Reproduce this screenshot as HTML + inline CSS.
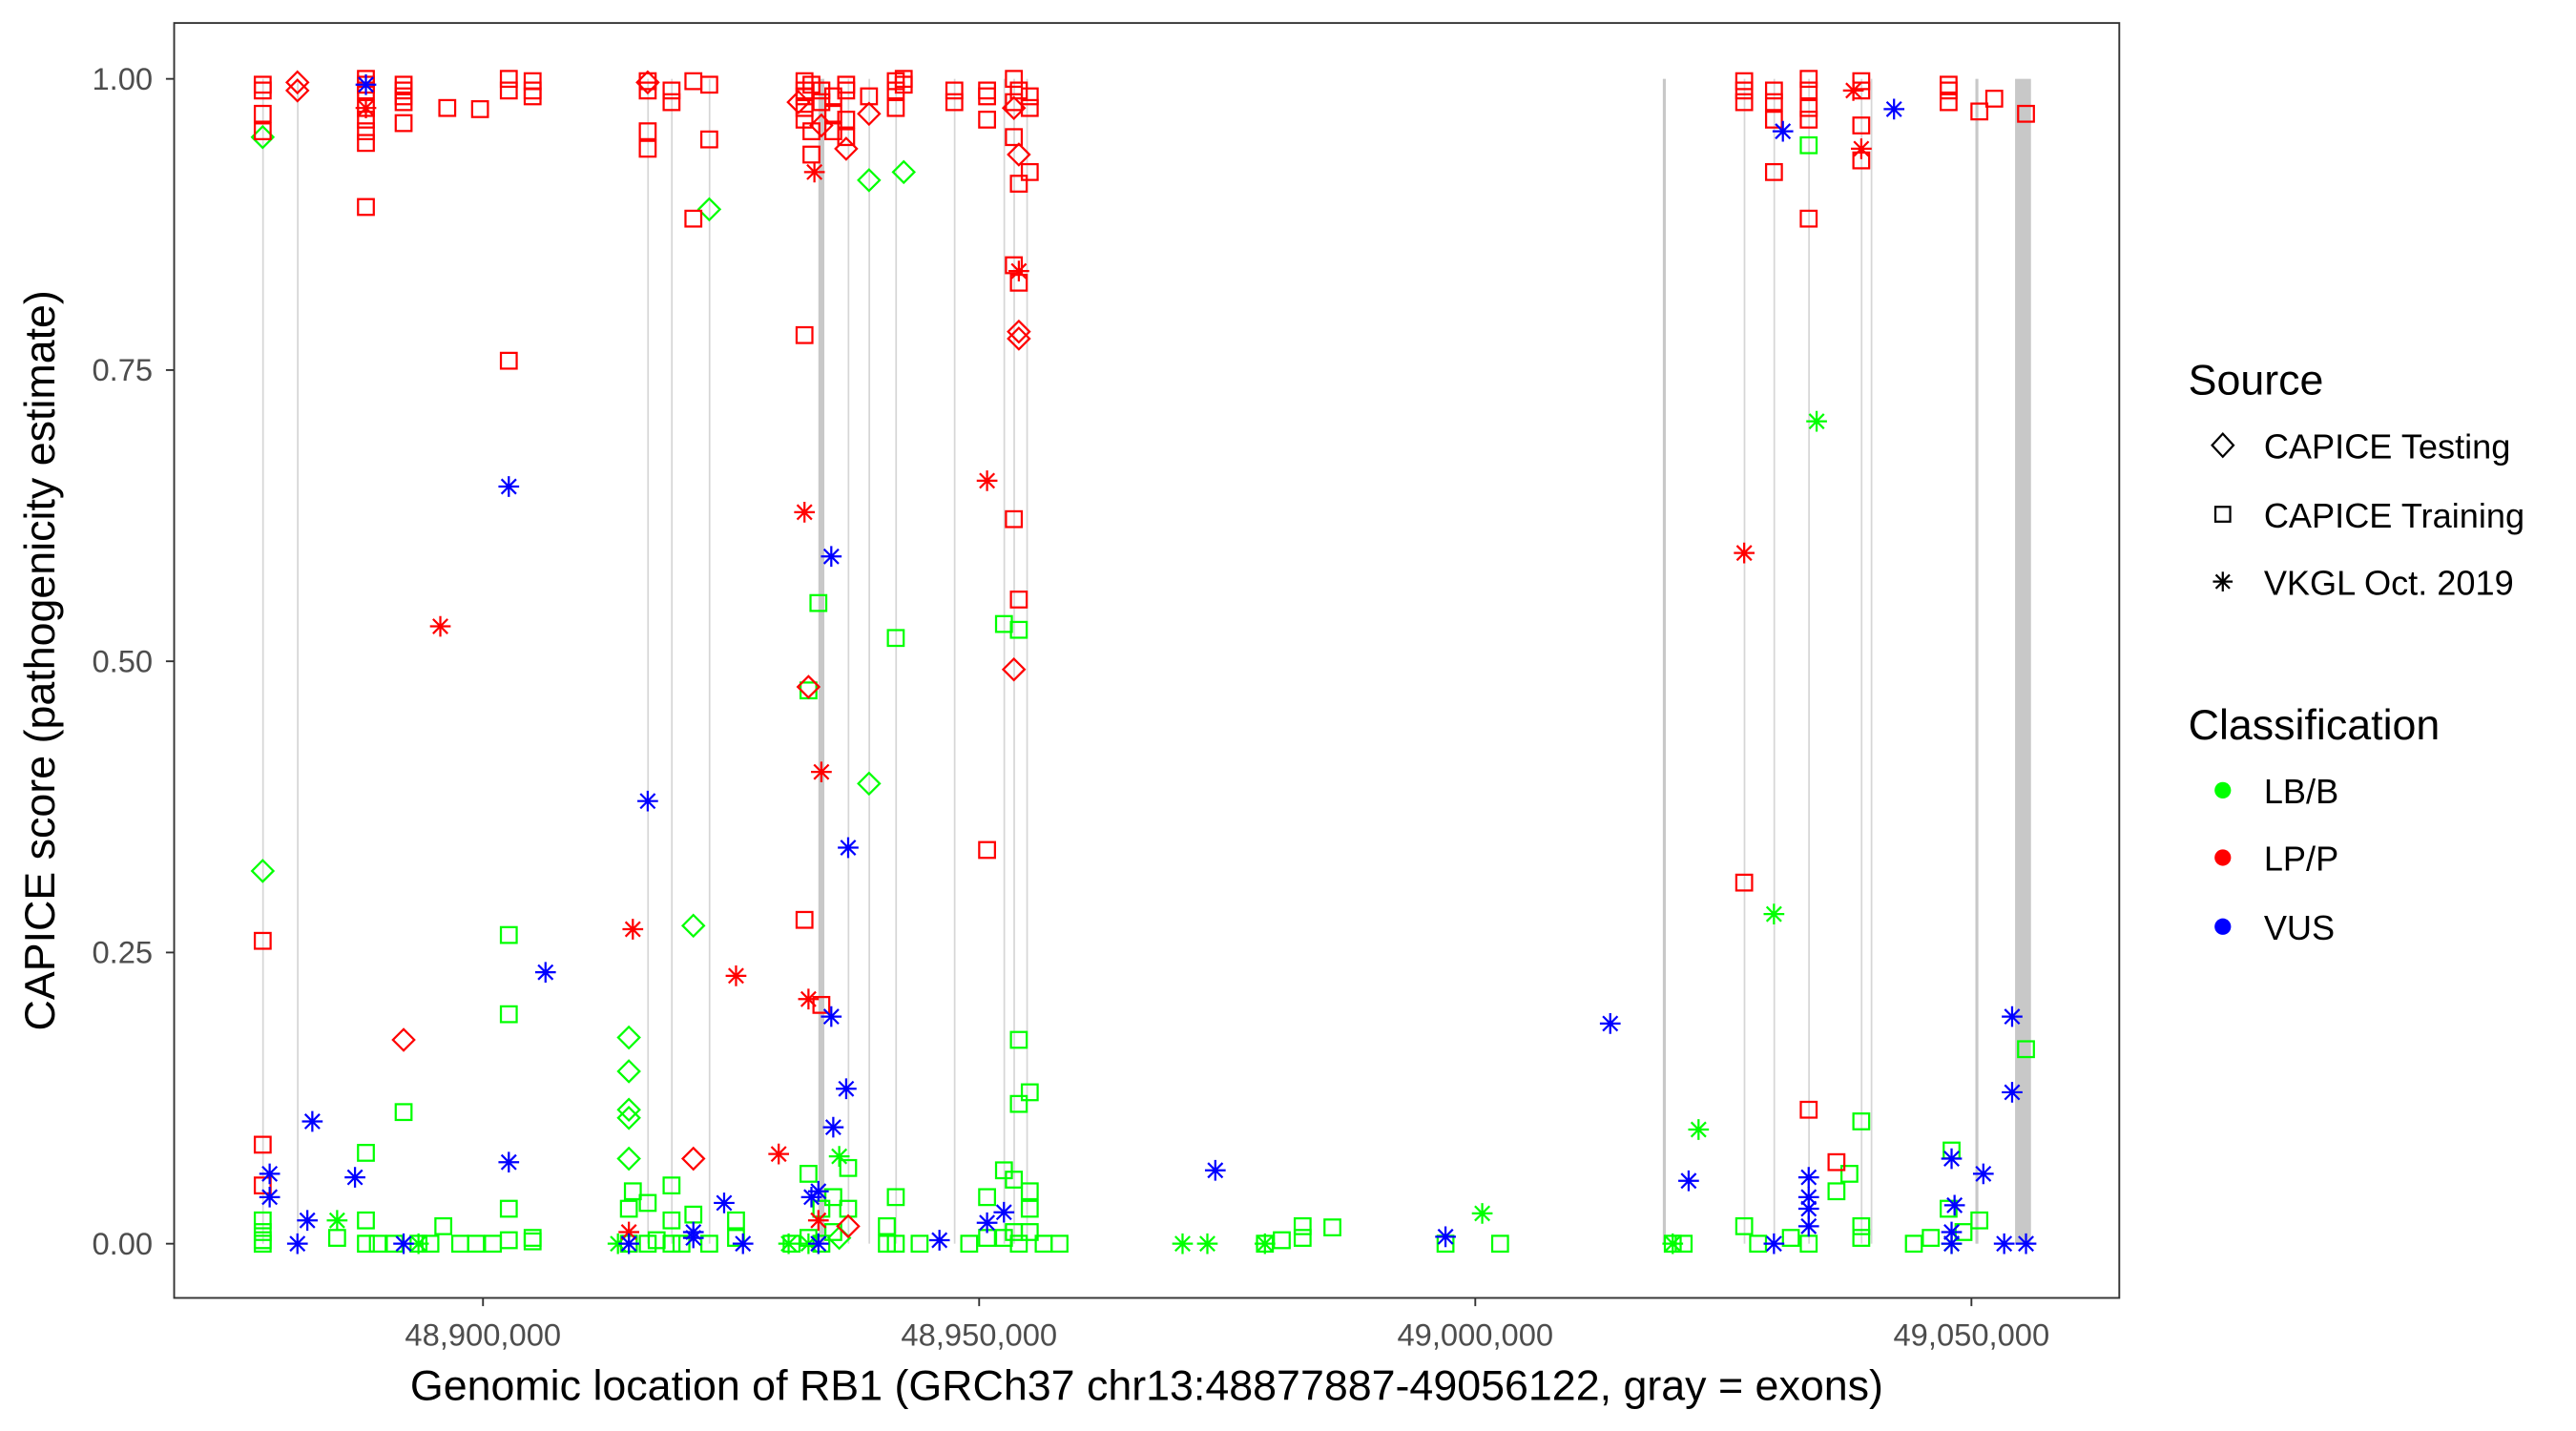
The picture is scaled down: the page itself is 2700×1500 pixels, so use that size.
<!DOCTYPE html>
<html><head><meta charset="utf-8"><style>
html,body{margin:0;padding:0;background:#fff;}
svg{display:block;font-family:"Liberation Sans",Arial,sans-serif;}
</style></head><body>
<svg id="chart" width="2700" height="1500" viewBox="0 0 1568 871" preserveAspectRatio="none" xmlns="http://www.w3.org/2000/svg">
<rect x="0" y="0" width="1568" height="871" fill="#fff"/>
<g id="exons"></g>
<g id="points"></g>
<rect x="106" y="14" width="1184" height="776" fill="none" stroke="#333" stroke-width="1.1"/>
<g id="yaxis"></g>
<g id="xaxis"></g>
<text x="698" y="852" font-size="26" text-anchor="middle" fill="#000">Genomic location of RB1 (GRCh37 chr13:48877887-49056122, gray = exons)</text>
<text transform="translate(33,402) rotate(-90)" font-size="26" text-anchor="middle" fill="#000">CAPICE score (pathogenicity estimate)</text>
<g>
<text x="1332" y="240" font-size="26">Source</text>
<path d="M1353,264 L1359.5,271 L1353,278 L1346.5,271 Z" fill="none" stroke="#000" stroke-width="1.3"/>
<text x="1378" y="279" font-size="21">CAPICE Testing</text>
<rect x="1348.5" y="308.5" width="9" height="9" fill="none" stroke="#000" stroke-width="1.3"/>
<text x="1378" y="321" font-size="21">CAPICE Training</text>
<g stroke="#000" stroke-width="1.3"><line x1="1353" y1="348" x2="1353" y2="360"/><line x1="1347" y1="354" x2="1359" y2="354"/><line x1="1348.8" y1="349.8" x2="1357.2" y2="358.2"/><line x1="1348.8" y1="358.2" x2="1357.2" y2="349.8"/></g>
<text x="1378" y="362" font-size="21">VKGL Oct. 2019</text>
</g>
<g>
<text x="1332" y="450" font-size="26">Classification</text>
<circle cx="1353" cy="481" r="5" fill="#00ff00"/>
<text x="1378" y="489" font-size="21">LB/B</text>
<circle cx="1353" cy="522" r="5" fill="#ff0000"/>
<text x="1378" y="530" font-size="21">LP/P</text>
<circle cx="1353" cy="564" r="5" fill="#0000ff"/>
<text x="1378" y="572" font-size="21">VUS</text>
</g>
</svg>
<script>
// positions in kb (GRCh37 chr13), scores 0..1
const yTicks = [0, 0.25, 0.5, 0.75, 1.0];
const yTickLabels = ["0.00", "0.25", "0.50", "0.75", "1.00"];
const xTicks = [48900, 48950, 49000, 49050];
const xTickLabels = ["48,900,000", "48,950,000", "49,000,000", "49,050,000"];
const exons = [[48877.75,48877.85],[48881.25,48881.35],[48916.55,48916.65],[48918.95,48919.05],[48922.75,48922.85],[48933.8,48934.4],[48936.75,48936.85],[48938.85,48938.95],[48941.55,48941.65],[48947.45,48947.55],[48952.45,48952.55],[48953.45,48953.55],[48954.75,48954.85],[49018.9,49019.2],[49027.05,49027.15],[49030.05,49030.15],[49033.55,49033.65],[49038.85,49038.95],[49039.85,49039.95],[49050.4,49050.7],[49054.4,49056.0]];
const testingLB = [[48877.8,0.95],[48877.8,0.32],[48914.7,0.177],[48914.7,0.148],[48914.7,0.115],[48914.7,0.108],[48914.7,0.073],[48921.2,0.273],[48922.8,0.888],[48938.9,0.913],[48942.4,0.92],[48938.9,0.395],[48935.9,0.005]];
const testingLP = [[48881.3,0.997],[48881.3,0.99],[48892.0,0.175],[48916.6,0.997],[48921.2,0.073],[48931.8,0.98],[48932.8,0.478],[48936.6,0.94],[48938.9,0.97],[48936.8,0.015],[48953.5,0.493],[48954.0,0.783],[48954.0,0.777],[48954.0,0.935],[48953.5,0.975],[48934.1,0.96]];
const trainingLB = [[48877.8,0.02],[48877.8,0.01],[48877.8,0.0],[48877.8,0.003],[48885.3,0.005],[48888.2,0.078],[48888.2,0.02],[48888.2,0],[48892.0,0.113],[48889.4,0],[48891.1,0],[48893.5,0],[48894.7,0],[48896.0,0.015],[48897.7,0],[48899.3,0],[48901.0,0],[48902.6,0.265],[48902.6,0.197],[48902.6,0.03],[48902.6,0.003],[48905.0,0.005],[48905.0,0.002],[48914.7,0.03],[48914.7,0],[48915.1,0.045],[48916.6,0.035],[48916.6,0],[48917.5,0.003],[48919.0,0.05],[48919.0,0.02],[48919.0,0],[48920.0,0],[48921.2,0.025],[48922.8,0],[48925.5,0.02],[48925.5,0.005],[48931.1,0],[48932.8,0.475],[48932.8,0.06],[48932.8,0.005],[48933.8,0.55],[48934.1,0.03],[48934.1,0],[48935.3,0.04],[48935.3,0.01],[48936.8,0.065],[48936.8,0.03],[48940.7,0.015],[48940.7,0],[48941.6,0.52],[48941.6,0.04],[48941.6,0],[48944.0,0],[48949.0,0],[48950.8,0.04],[48950.8,0.005],[48952.5,0.532],[48952.5,0.063],[48952.5,0.005],[48953.5,0.055],[48953.5,0.01],[48954.0,0.527],[48954.0,0.175],[48954.0,0.12],[48954.0,0],[48955.1,0.13],[48955.1,0.045],[48955.1,0.03],[48955.1,0.01],[48956.5,0],[48958.1,0],[48978.8,0],[48980.5,0.003],[48982.6,0.015],[48982.6,0.005],[48985.6,0.014],[48997.0,0],[49002.5,0],[49019.9,0],[49021.0,0],[49027.1,0.015],[49028.5,0],[49031.8,0.005],[49033.6,0.943],[49033.6,0],[49036.4,0.045],[49037.7,0.06],[49038.9,0.105],[49038.9,0.015],[49038.9,0.005],[49044.2,0],[49045.9,0.005],[49047.7,0.03],[49048.0,0.08],[49049.2,0.01],[49050.8,0.02],[49055.5,0.167]];
const trainingLP = [[48877.8,0.995],[48877.8,0.99],[48877.8,0.97],[48877.8,0.955],[48877.8,0.26],[48877.8,0.085],[48877.8,0.05],[48888.2,1.0],[48888.2,0.995],[48888.2,0.99],[48888.2,0.975],[48888.2,0.965],[48888.2,0.955],[48888.2,0.945],[48888.2,0.89],[48892.0,0.995],[48892.0,0.99],[48892.0,0.985],[48892.0,0.98],[48892.0,0.962],[48896.4,0.975],[48899.7,0.974],[48902.6,1.0],[48902.6,0.99],[48902.6,0.758],[48905.0,0.998],[48905.0,0.99],[48905.0,0.985],[48916.6,0.998],[48916.6,0.99],[48916.6,0.955],[48916.6,0.94],[48919.0,0.99],[48919.0,0.98],[48921.2,0.998],[48921.2,0.88],[48922.8,0.995],[48922.8,0.948],[48932.4,0.78],[48932.4,0.278],[48932.4,0.998],[48932.4,0.99],[48932.4,0.985],[48932.4,0.975],[48932.4,0.965],[48933.1,0.995],[48933.1,0.955],[48933.1,0.935],[48934.1,0.205],[48934.1,0.99],[48934.1,0.98],[48935.3,0.985],[48935.3,0.97],[48935.3,0.955],[48936.6,0.995],[48936.6,0.99],[48936.6,0.965],[48936.6,0.95],[48938.9,0.985],[48941.6,0.998],[48941.6,0.99],[48941.6,0.975],[48942.4,1.0],[48942.4,0.995],[48947.5,0.99],[48947.5,0.98],[48950.8,0.99],[48950.8,0.985],[48950.8,0.965],[48950.8,0.338],[48953.5,1.0],[48953.5,0.98],[48953.5,0.95],[48953.5,0.84],[48953.5,0.622],[48954.0,0.99],[48954.0,0.91],[48954.0,0.825],[48954.0,0.553],[48955.1,0.985],[48955.1,0.975],[48955.1,0.92],[49027.1,0.998],[49027.1,0.99],[49027.1,0.98],[49027.1,0.31],[49030.1,0.99],[49030.1,0.98],[49030.1,0.965],[49030.1,0.92],[49033.6,1.0],[49033.6,0.99],[49033.6,0.975],[49033.6,0.965],[49033.6,0.88],[49033.6,0.115],[49036.4,0.07],[49038.9,0.998],[49038.9,0.99],[49038.9,0.96],[49038.9,0.93],[49047.7,0.995],[49047.7,0.99],[49047.7,0.98],[49050.8,0.972],[49052.3,0.983],[49055.5,0.97]];
const vkglLB = [[48885.3,0.02],[48935.9,0.075],[49000.7,0.026],[48970.5,0],[48973.0,0],[48978.8,0],[49019.9,0],[49022.5,0.098],[49030.1,0.283],[49034.4,0.706],[48932.8,0],[48913.6,0],[48893.5,0],[48930.8,0],[49048.0,0]];
const vkglLP = [[48888.2,0.975],[48895.7,0.53],[48915.1,0.27],[48914.7,0.01],[48925.5,0.23],[48929.8,0.077],[48932.4,0.628],[48933.4,0.92],[48932.8,0.21],[48934.1,0.405],[48933.8,0.02],[48950.8,0.655],[48954.0,0.835],[49027.1,0.593],[49038.1,0.99],[49038.9,0.94]];
const vkglVUS = [[48878.5,0.06],[48878.5,0.04],[48881.3,0],[48882.3,0.02],[48882.8,0.105],[48887.1,0.057],[48888.2,0.995],[48892.0,0],[48902.6,0.65],[48902.6,0.07],[48906.3,0.233],[48914.7,0],[48916.6,0.38],[48921.2,0.01],[48921.2,0.005],[48924.3,0.035],[48926.2,0],[48933.1,0.04],[48933.8,0.045],[48933.8,0],[48935.1,0.59],[48935.1,0.195],[48935.3,0.1],[48936.8,0.34],[48936.6,0.133],[48946.0,0.003],[48950.8,0.018],[48952.5,0.027],[48973.8,0.063],[48997.0,0.006],[49013.6,0.189],[49021.5,0.054],[49031.0,0.955],[49030.1,0],[49033.6,0.057],[49033.6,0.04],[49033.6,0.03],[49033.6,0.015],[49042.2,0.974],[49048.0,0.073],[49048.0,0.01],[49048.0,0],[49048.3,0.033],[49051.2,0.06],[49054.1,0.195],[49054.1,0.13],[49053.3,0],[49055.5,0]];

const NS = "http://www.w3.org/2000/svg";
function xs(kb){ return 294 + (kb - 48900) / 50 * 302; }
function ys(s){ return 757 - s * 709; }
function mk(tag, attrs, parent){ const e = document.createElementNS(NS, tag); for (const k in attrs) e.setAttribute(k, attrs[k]); parent.appendChild(e); return e; }

const gEx = document.getElementById('exons');
exons.forEach(function(ex){
  const x0 = xs(ex[0]), x1 = xs(ex[1]);
  const w = Math.max(1, x1 - x0);
  const r = mk('rect', {x: x0, y: ys(1), width: w, height: ys(0) - ys(1), fill: w > 1.5 ? '#c8c8c8' : '#d6d6d6'}, gEx);
  
  
});

const gY = document.getElementById('yaxis');
yTicks.forEach(function(v, i){
  const y = ys(v);
  const l = mk('line', {x1: 101, x2: 106, y1: y, y2: y, stroke: '#333', 'stroke-width': 1.1}, gY);
  
  
  const t = mk('text', {x: 93, y: y + 6.5, 'font-size': 19, 'text-anchor': 'end', fill: '#4d4d4d'}, gY);
  
  
  t.textContent = yTickLabels[i];
});
const gX = document.getElementById('xaxis');
xTicks.forEach(function(v, i){
  const x = xs(v);
  const l = mk('line', {x1: x, x2: x, y1: 790, y2: 795, stroke: '#333', 'stroke-width': 1.1}, gX);
  
  
  const t = mk('text', {x: x, y: 819, 'font-size': 19, 'text-anchor': 'middle', fill: '#4d4d4d'}, gX);
  
  
  t.textContent = xTickLabels[i];
});

const gP = document.getElementById('points');
function diamond(px, py, c){
  return mk('path', {d: 'M'+px+','+(py-6.5)+' L'+(px+6.5)+','+py+' L'+px+','+(py+6.5)+' L'+(px-6.5)+','+py+' Z', fill: 'none', stroke: c, 'stroke-width': 1.3}, gP);
}
function square(px, py, c){
  return mk('rect', {x: px-4.8, y: py-4.8, width: 9.6, height: 9.6, fill: 'none', stroke: c, 'stroke-width': 1.3}, gP);
}
function star(px, py, c){
  const r = 6.3, d = r * 0.707;
  return mk('path', {d: 'M'+px+','+(py-r)+'V'+(py+r)+'M'+(px-r)+','+py+'H'+(px+r)+'M'+(px-d)+','+(py-d)+'L'+(px+d)+','+(py+d)+'M'+(px-d)+','+(py+d)+'L'+(px+d)+','+(py-d), fill: 'none', stroke: c, 'stroke-width': 1.3}, gP);
}
function drawSeries(arr, fn, color, name){
  arr.forEach(function(p){
    const e = fn(xs(p[0]), ys(p[1]), color);
    
    
  });
}
const G = '#00ff00', R = '#ff0000', B = '#0000ff';
drawSeries(trainingLB, square, G, 'point-training-lbb');
drawSeries(testingLB, diamond, G, 'point-testing-lbb');
drawSeries(vkglLB, star, G, 'point-vkgl-lbb');
drawSeries(trainingLP, square, R, 'point-training-lpp');
drawSeries(testingLP, diamond, R, 'point-testing-lpp');
drawSeries(vkglLP, star, R, 'point-vkgl-lpp');
drawSeries(vkglVUS, star, B, 'point-vkgl-vus');
</script>
</body></html>
